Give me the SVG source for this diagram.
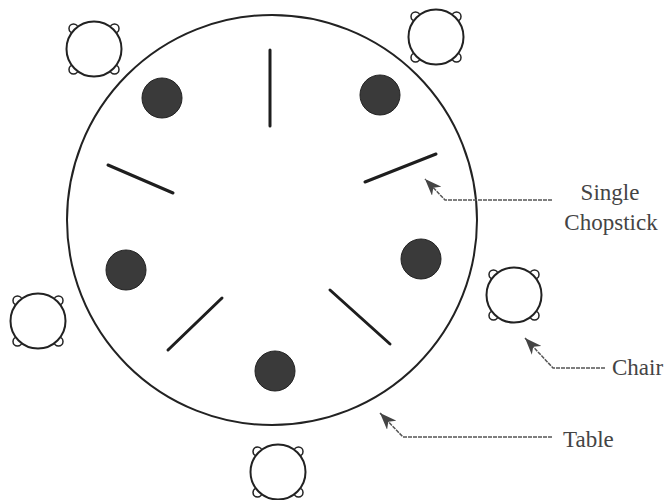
<svg xmlns="http://www.w3.org/2000/svg" width="669" height="500" viewBox="0 0 669 500">
  <style>
    .table { fill: none; stroke: #222; stroke-width: 2; }
    .seat { fill: #fff; stroke: #222; stroke-width: 2; }
    .knob { fill: #fff; stroke: #222; stroke-width: 1.5; }
    .plate { fill: #3a3a3a; stroke: #222; stroke-width: 1; }
    .stick { stroke: #1e1e1e; stroke-width: 3; stroke-linecap: round; }
    .lead { fill: none; stroke: #555; stroke-width: 1.5; stroke-dasharray: 4 1; }
    .label { font-family: "Liberation Serif", "Times New Roman", serif; font-size: 23px; fill: #444; }
  </style>
  <defs>
    <marker id="arr" markerUnits="userSpaceOnUse" markerWidth="18" markerHeight="13" refX="17" refY="6.5" orient="auto">
      <path d="M0,0 L17,6.5 L0,13 L5,6.5 z" fill="#444"/>
    </marker>
    <g id="chair">
      <circle class="knob" cx="-20.5" cy="-20.5" r="4.5"/>
      <circle class="knob" cx="20.5" cy="-20.5" r="4.5"/>
      <circle class="knob" cx="-20.5" cy="20.5" r="4.5"/>
      <circle class="knob" cx="20.5" cy="20.5" r="4.5"/>
      <circle class="seat" cx="0" cy="0" r="27.5"/>
    </g>
  </defs>
  <rect width="669" height="500" fill="#fff"/>

  <g id="table">
    <circle class="table" cx="272" cy="220" r="205"/>
  </g>

  <g id="chair-top-left"><use href="#chair" x="94" y="49"/></g>
  <g id="chair-top-right"><use href="#chair" x="436" y="37"/></g>
  <g id="chair-right"><use href="#chair" x="514" y="295"/></g>
  <g id="chair-left"><use href="#chair" x="38" y="321"/></g>
  <g id="chair-bottom"><use href="#chair" x="278" y="472"/></g>

  <g id="plate-1"><circle class="plate" cx="162" cy="98" r="20"/></g>
  <g id="plate-2"><circle class="plate" cx="380" cy="95" r="20"/></g>
  <g id="plate-3"><circle class="plate" cx="126" cy="270" r="20"/></g>
  <g id="plate-4"><circle class="plate" cx="421" cy="259" r="20"/></g>
  <g id="plate-5"><circle class="plate" cx="275" cy="371" r="20"/></g>

  <g id="chopstick-1"><line class="stick" x1="270" y1="50" x2="270" y2="126"/></g>
  <g id="chopstick-2"><line class="stick" x1="108" y1="165" x2="173" y2="193"/></g>
  <g id="chopstick-3"><line class="stick" x1="365" y1="182" x2="436" y2="154"/></g>
  <g id="chopstick-4"><line class="stick" x1="168" y1="350" x2="222" y2="298"/></g>
  <g id="chopstick-5"><line class="stick" x1="330" y1="290" x2="390" y2="344"/></g>

  <g id="connectors">
    <polyline class="lead" points="552,200 445,200 425,179" marker-end="url(#arr)"/>
    <polyline class="lead" points="605,368 553,368 525,338" marker-end="url(#arr)"/>
    <polyline class="lead" points="552,437 403,437 380,413" marker-end="url(#arr)"/>
  </g>

  <g id="labels">
    <text class="label" x="610" y="200" text-anchor="middle">Single</text>
    <text class="label" x="611" y="230" text-anchor="middle">Chopstick</text>
    <text class="label" x="612" y="375">Chair</text>
    <text class="label" x="563" y="447">Table</text>
  </g>
</svg>
